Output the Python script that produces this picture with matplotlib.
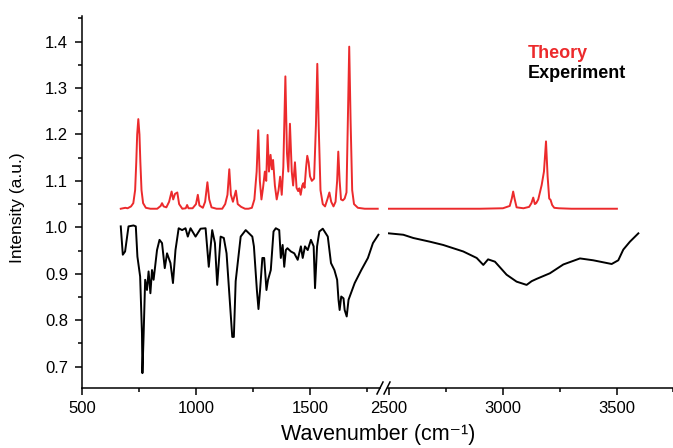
import matplotlib
matplotlib.use("Agg")
import matplotlib.pyplot as plt
from matplotlib.lines import Line2D
from matplotlib.ticker import MultipleLocator, FixedLocator

plt.rcParams['font.family'] = ['Liberation Sans', 'DejaVu Sans']

# ---- Theory (left segment) ----
theory_lo_x = [670, 690, 700, 715, 725, 733, 738, 742, 747, 752, 756, 761, 768, 780, 800, 830, 845, 851, 858,
               870, 882, 893, 900, 908, 918, 926, 940, 955, 961, 967, 985, 1000, 1008, 1015, 1030,
               1040, 1050, 1058, 1068, 1090, 1115, 1128, 1138, 1146, 1153, 1162, 1175, 1183, 1198,
               1215, 1230, 1245, 1256, 1266, 1273, 1280, 1287, 1294, 1302, 1308, 1314, 1320, 1327,
               1333, 1338, 1346, 1354, 1362, 1369, 1376, 1383, 1392, 1399, 1405, 1412, 1420, 1426,
               1434, 1441, 1448, 1453, 1459, 1466, 1471, 1476, 1483, 1488, 1494, 1500, 1508, 1518,
               1526, 1532, 1538, 1546, 1556, 1566, 1576, 1585, 1593, 1603, 1612, 1619, 1624, 1630,
               1636, 1644, 1652, 1660, 1666, 1672, 1678, 1685, 1693, 1710, 1740, 1797]
theory_lo_y = [1.040, 1.042, 1.041, 1.045, 1.052, 1.080, 1.140, 1.200, 1.233, 1.200, 1.140, 1.080, 1.052, 1.042,
               1.040, 1.040, 1.046, 1.052, 1.045, 1.043, 1.055, 1.077, 1.060, 1.072, 1.075, 1.050,
               1.040, 1.041, 1.048, 1.041, 1.041, 1.050, 1.070, 1.047, 1.042, 1.055, 1.097, 1.060,
               1.043, 1.040, 1.040, 1.050, 1.070, 1.125, 1.070, 1.055, 1.079, 1.050, 1.044, 1.040,
               1.040, 1.042, 1.060, 1.120, 1.209, 1.100, 1.060, 1.085, 1.120, 1.100, 1.199, 1.120,
               1.156, 1.125, 1.145, 1.090, 1.060, 1.080, 1.109, 1.070, 1.130, 1.325, 1.160, 1.120,
               1.223, 1.120, 1.090, 1.140, 1.085, 1.078, 1.084, 1.070, 1.090, 1.095, 1.085, 1.130,
               1.154, 1.140, 1.110, 1.100, 1.105, 1.220, 1.352, 1.220, 1.080, 1.050, 1.045, 1.060,
               1.075, 1.055, 1.045, 1.055, 1.100, 1.163, 1.100, 1.060, 1.058, 1.062, 1.075, 1.230,
               1.389, 1.230, 1.080, 1.050, 1.042, 1.040, 1.040]

# ---- Theory (right segment) ----
theory_hi_x = [2500, 2900, 3000, 3030, 3039, 3045, 3051, 3060, 3090, 3115, 3125, 3133, 3140, 3146,
               3155, 3170, 3180, 3189, 3196, 3203, 3209, 3216, 3225, 3245, 3300, 3500]
theory_hi_y = [1.040, 1.040, 1.041, 1.046, 1.062, 1.077, 1.062, 1.043, 1.041, 1.044, 1.052, 1.064,
               1.050, 1.052, 1.060, 1.091, 1.120, 1.185, 1.110, 1.062, 1.059, 1.048, 1.042, 1.041,
               1.040, 1.040]

# ---- Experiment (left segment) ----
exp_lo_x = [670, 679, 689, 704, 726, 736, 743, 755, 763, 765, 770, 777, 785, 792, 800, 807, 814, 829,
            840, 851, 863, 873, 888, 899, 910, 924, 939, 954, 964, 976, 998, 1020, 1042, 1056, 1071,
            1083, 1093, 1108, 1122, 1134, 1159, 1166, 1174, 1196, 1218, 1247, 1254, 1267, 1274, 1281,
            1291, 1299, 1309, 1316, 1328, 1340, 1350, 1365, 1372, 1380, 1387, 1394, 1401, 1416, 1431,
            1446, 1460, 1468, 1478, 1490, 1504, 1516, 1522, 1531, 1541, 1556, 1578, 1592, 1607, 1619,
            1625, 1630, 1637, 1647, 1652, 1661, 1669, 1696, 1725, 1754, 1776, 1800]
exp_lo_y = [1.002, 0.941, 0.948, 1.002, 1.004, 1.002, 0.937, 0.894, 0.772, 0.686, 0.764, 0.887,
            0.865, 0.905, 0.858, 0.908, 0.887, 0.951, 0.973, 0.966, 0.912, 0.944, 0.923, 0.880,
            0.951, 0.998, 0.994, 0.998, 0.980, 0.998, 0.980, 0.997, 0.998, 0.915, 0.994, 0.966,
            0.876, 0.980, 0.977, 0.944, 0.764, 0.764, 0.884, 0.980, 0.994, 0.980, 0.959, 0.865,
            0.824, 0.865, 0.934, 0.934, 0.865, 0.887, 0.908, 0.991, 0.998, 0.994, 0.934, 0.962,
            0.915, 0.951, 0.955, 0.948, 0.944, 0.930, 0.959, 0.934, 0.959, 0.951, 0.973, 0.959,
            0.869, 0.959, 0.991, 0.997, 0.980, 0.923, 0.908, 0.887, 0.844, 0.822, 0.851, 0.847,
            0.822, 0.808, 0.844, 0.880, 0.908, 0.934, 0.966, 0.984]

# ---- Experiment (right segment) ----
exp_hi_x = [2500, 2563, 2607, 2680, 2738, 2826, 2885, 2914, 2935, 2965, 3016, 3060, 3104, 3126,
            3148, 3206, 3265, 3338, 3396, 3477, 3506, 3528, 3557, 3594]
exp_hi_y = [0.987, 0.984, 0.977, 0.969, 0.962, 0.948, 0.934, 0.919, 0.931, 0.926, 0.898, 0.883,
            0.876, 0.884, 0.889, 0.901, 0.920, 0.933, 0.929, 0.921, 0.929, 0.952, 0.969, 0.987]

legend_labels = ["Theory", "Experiment"]
x_label = "Wavenumber (cm\u207b\u00b9)"
y_label = "Intensity (a.u.)"

RED = '#ec2a2c'
W, H = 673, 448
fig = plt.figure(figsize=(W / 100, H / 100), dpi=100)

def fx(px):
    return px / W

def fy(py):
    return 1 - py / H

ax1 = fig.add_axes([fx(82), fy(388), fx(380 - 82), (388 - 16) / H])
ax2 = fig.add_axes([fx(388), fy(388), fx(673 - 388), (388 - 16) / H], sharey=ax1)

ylim = (0.654, 1.455)
ax1.set_xlim(500, 1807)
ax2.set_xlim(2496, 3746)
ax1.set_ylim(*ylim)

lw = 1.4
ax1.plot(theory_lo_x, theory_lo_y, color=RED, lw=lw)
ax2.plot(theory_hi_x, theory_hi_y, color=RED, lw=lw)
ax1.plot(exp_lo_x, exp_lo_y, color='black', lw=lw)
ax2.plot(exp_hi_x, exp_hi_y, color='black', lw=lw)

for ax in (ax1, ax2):
    for s in ('top', 'right'):
        ax.spines[s].set_visible(False)
    for s in ('left', 'bottom'):
        ax.spines[s].set_linewidth(1.1)
    ax.patch.set_alpha(0)
    ax.tick_params(axis='both', which='major', direction='out', length=5, width=1.1,
                   labelsize=12, pad=4)
    ax.tick_params(axis='both', which='minor', direction='out', length=3, width=1.1)

ax2.spines['left'].set_visible(False)
ax2.tick_params(axis='y', which='both', left=False, labelleft=False)

ax1.xaxis.set_major_locator(FixedLocator([500, 1000, 1500]))
ax1.xaxis.set_minor_locator(FixedLocator([750, 1250, 1750]))
ax2.xaxis.set_major_locator(FixedLocator([2500, 3000, 3500]))
ax2.xaxis.set_minor_locator(FixedLocator([2750, 3250, 3745]))
ax1.yaxis.set_major_locator(MultipleLocator(0.1))
ax1.yaxis.set_minor_locator(MultipleLocator(0.05))
ax1.yaxis.set_major_formatter(matplotlib.ticker.FormatStrFormatter('%.1f'))
ax1.tick_params(axis='y', which='major', pad=5)

# axis break marks
for x0 in (377, 384):
    fig.add_artist(Line2D([fx(x0), fx(x0 + 6)], [fy(394), fy(382)], color='black', lw=1.1))

fig.text(fx(378), fy(434), x_label, ha='center', va='center', fontsize=15.5)
fig.text(fx(18), fy(208), y_label, ha='center', va='center', rotation=90, fontsize=12.5)

fig.text(fx(528), fy(53), legend_labels[0], color=RED, fontsize=13, fontweight='bold',
         ha='left', va='center')
fig.text(fx(528), fy(73), legend_labels[1], color='black', fontsize=13, fontweight='bold',
         ha='left', va='center')

fig.savefig('out.png', dpi=100)
